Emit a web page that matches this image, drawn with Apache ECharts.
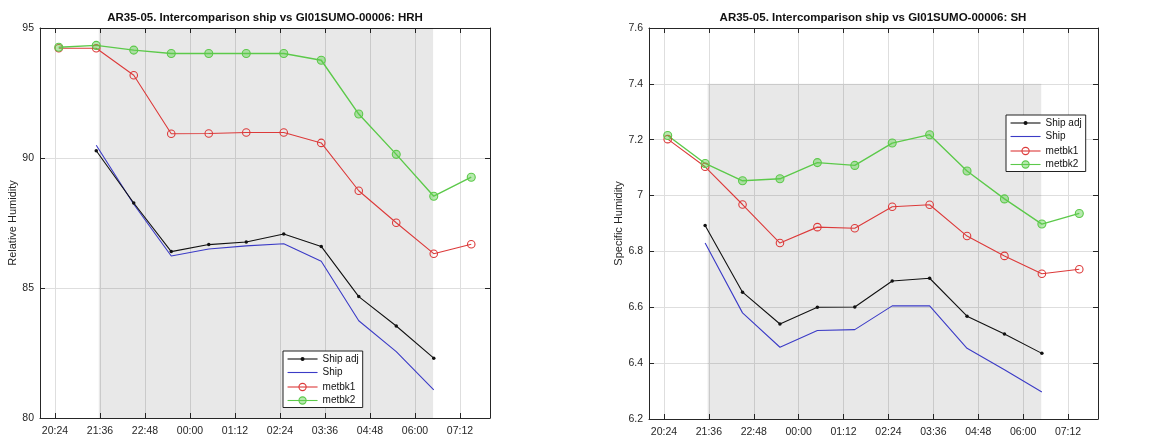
<!DOCTYPE html>
<html>
<head>
<meta charset="utf-8">
<script src="https://cdn.jsdelivr.net/npm/echarts@6/dist/echarts.min.js"></script>
<style>
html, body { margin: 0; padding: 0; background: #fff; }
#main { width: 1150px; height: 439px; }
</style>
</head>
<body>
<div id="main"></div>
<script>
// hourly sample times (evening -> next morning)
var pointTimes = ['20:30', '21:30', '22:30', '23:30', '00:30', '01:30', '02:30', '03:30', '04:30', '05:30', '06:30', '07:30'];
var shipTimes = pointTimes.slice(1, 11);
var shadeTimes = ['21:34', '06:29'];
var xTicks = ['20:24', '21:36', '22:48', '00:00', '01:12', '02:24', '03:36', '04:48', '06:00', '07:12'];
var xRange = ['20:00', '08:00'];

// relative humidity
var hrhShipAdj = [90.28, 88.27, 86.40, 86.67, 86.77, 87.08, 86.60, 84.67, 83.54, 82.30];
var hrhShip = [90.49, 88.22, 86.23, 86.50, 86.62, 86.70, 86.03, 83.74, 82.55, 81.08];
var hrhMetbk1 = [94.22, 94.22, 93.18, 90.93, 90.94, 90.98, 90.98, 90.58, 88.74, 87.51, 86.32, 86.68];
var hrhMetbk2 = [94.26, 94.33, 94.15, 94.02, 94.02, 94.02, 94.02, 93.76, 91.69, 90.14, 88.53, 89.26];
var hrhShade = [80, 95];

// specific humidity
var shShipAdj = [6.893, 6.654, 6.540, 6.600, 6.601, 6.694, 6.704, 6.568, 6.504, 6.435];
var shShip = [6.830, 6.580, 6.457, 6.517, 6.520, 6.605, 6.605, 6.453, 6.376, 6.297];
var shMetbk1 = [7.202, 7.103, 6.968, 6.830, 6.887, 6.883, 6.960, 6.967, 6.855, 6.784, 6.720, 6.736];
var shMetbk2 = [7.215, 7.115, 7.053, 7.060, 7.118, 7.108, 7.188, 7.218, 7.088, 6.988, 6.898, 6.936];
var shShade = [6.2, 7.4];

var names = ['Ship adj', 'Ship', 'metbk1', 'metbk2'];

function toMin(s) {
    var p = s.split(':');
    var h = +p[0], m = +p[1];
    if (h < 12) h += 24;
    return h * 60 + m;
}
function fmt(v) {
    var h = Math.floor(v / 60) % 24, m = Math.round(v % 60);
    return (h < 10 ? '0' : '') + h + ':' + (m < 10 ? '0' : '') + m;
}
function pairs(times, vals) {
    return vals.map(function (v, i) { return [toMin(times[i]), v]; });
}

var axisCol = '#262626';
var font = 'Liberation Sans';
var tickVals = xTicks.map(toMin);

function xAxis(grid, top) {
    return {
        type: 'value', gridIndex: grid, position: top ? 'top' : 'bottom',
        min: toMin(xRange[0]), max: toMin(xRange[1]),
        axisLine: { show: true, onZero: false, lineStyle: { color: axisCol, width: 1 } },
        axisTick: { show: true, inside: true, length: 5, customValues: tickVals, lineStyle: { color: axisCol } },
        axisLabel: {
            show: !top, customValues: tickVals, formatter: fmt, margin: 8,
            color: axisCol, fontFamily: font, fontSize: 10.5
        },
        splitLine: { show: !top, lineStyle: { color: '#dedede', width: 1 } }
    };
}
function yAxis(grid, right, min, max, step, name, gap, dec) {
    return {
        type: 'value', gridIndex: grid, position: right ? 'right' : 'left',
        min: min, max: max, interval: step,
        name: right ? '' : name, nameLocation: 'middle', nameGap: gap, nameRotate: 90,
        nameTextStyle: { color: axisCol, fontFamily: font, fontSize: 11 },
        axisLine: { show: true, onZero: false, lineStyle: { color: axisCol, width: 1 } },
        axisTick: { show: true, inside: true, length: 5, lineStyle: { color: axisCol } },
        axisLabel: {
            show: !right, margin: 6, color: axisCol, fontFamily: font, fontSize: 10.5,
            formatter: function (v) { return dec ? (+v.toFixed(1)).toString() : v; }
        },
        splitLine: { show: !right, lineStyle: { color: '#dedede', width: 1 } }
    };
}

function seriesFor(grid, adj, ship, m1, m2, shade) {
    var xi = grid * 2, yi = grid * 2;
    return [{
        name: names[0], type: 'line', xAxisIndex: xi, yAxisIndex: yi,
        data: pairs(shipTimes, adj), symbol: 'circle', symbolSize: 3.5,
        itemStyle: { color: '#111' }, lineStyle: { color: '#111', width: 1.1 },
        z: 4, animation: false,
        markArea: {
            silent: true,
            itemStyle: { color: 'rgba(0,0,0,0.09)' },
            data: [[{ xAxis: toMin(shadeTimes[0]), yAxis: shade[0] }, { xAxis: toMin(shadeTimes[1]), yAxis: shade[1] }]]
        }
    }, {
        name: names[1], type: 'line', xAxisIndex: xi, yAxisIndex: yi,
        data: pairs(shipTimes, ship), symbol: 'none',
        itemStyle: { color: '#3b3bc6' }, lineStyle: { color: '#3b3bc6', width: 1.1 },
        z: 3, animation: false
    }, {
        name: names[2], type: 'line', xAxisIndex: xi, yAxisIndex: yi,
        data: pairs(pointTimes, m1), symbol: 'circle', symbolSize: 7.5,
        itemStyle: { color: 'rgba(0,0,0,0)', borderColor: '#dc3a3a', borderWidth: 1.1 },
        lineStyle: { color: '#dc3a3a', width: 1.1 },
        z: 3, animation: false
    }, {
        name: names[3], type: 'line', xAxisIndex: xi, yAxisIndex: yi,
        data: pairs(pointTimes, m2), symbol: 'circle', symbolSize: 8,
        itemStyle: { color: 'rgba(96,206,78,0.45)', borderColor: '#5cc94a', borderWidth: 1.1 },
        lineStyle: { color: '#5cc94a', width: 1.4 },
        z: 3, animation: false
    }];
}

// legend: framed part (ship rows, small dot) + overlay part (metbk rows, larger circles)
var rowH = 13.5;
function legends(left, top) {
    var base = {
        orient: 'vertical', itemGap: 3.5, itemWidth: 30,
        textStyle: { color: '#111', fontFamily: font, fontSize: 10, lineHeight: 10 },
        lineStyle: { width: 1.1 },
        itemStyle: { borderWidth: 1.1 },
        selectedMode: false
    };
    var a = Object.assign({}, base, {
        data: [names[0], { name: names[1], itemStyle: { opacity: 0 } }],
        left: left, top: top, itemHeight: 5,
        backgroundColor: '#fff', borderColor: '#222', borderWidth: 1,
        padding: [3, 4, 3 + 2 * rowH, 4]
    });
    var b = Object.assign({}, base, {
        data: [names[2], names[3]],
        left: left + 1, top: top + 1 + 3 + 2 * rowH, itemHeight: 9,
        padding: [0, 3, 0, 3]
    });
    return [a, b];
}

var chart = echarts.init(document.getElementById('main'), null, { renderer: 'canvas' });
chart.setOption({
    animation: false,
    title: [{
        text: 'AR35-05. Intercomparison ship vs GI01SUMO-00006: HRH',
        left: 265, top: 12, textAlign: 'center', padding: 0,
        textStyle: { fontFamily: font, fontSize: 11.5, fontWeight: 'bold', color: '#111' }
    }, {
        text: 'AR35-05. Intercomparison ship vs GI01SUMO-00006: SH',
        left: 873, top: 12, textAlign: 'center', padding: 0,
        textStyle: { fontFamily: font, fontSize: 11.5, fontWeight: 'bold', color: '#111' }
    }],
    legend: legends(283, 351).concat(legends(1006, 115)),
    grid: [
        { left: 40, top: 28, width: 450, height: 390 },
        { left: 649, top: 28, width: 449, height: 391 }
    ],
    xAxis: [xAxis(0, false), xAxis(0, true), xAxis(1, false), xAxis(1, true)],
    yAxis: [
        yAxis(0, false, 80, 95, 5, 'Relative Humidity', 20, false),
        yAxis(0, true, 80, 95, 5, '', 0, false),
        yAxis(1, false, 6.2, 7.6, 0.2, 'Specific Humidity', 21, true),
        yAxis(1, true, 6.2, 7.6, 0.2, '', 0, true)
    ],
    series: seriesFor(0, hrhShipAdj, hrhShip, hrhMetbk1, hrhMetbk2, hrhShade)
        .concat(seriesFor(1, shShipAdj, shShip, shMetbk1, shMetbk2, shShade))
});
</script>
</body>
</html>
